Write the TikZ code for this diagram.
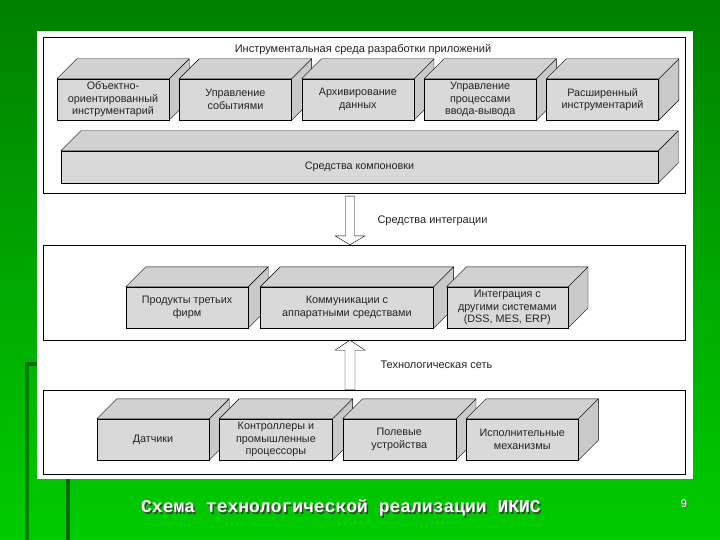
\documentclass[tikz,border=0pt]{standalone}
\usepackage{fontspec}
\setmainfont{Liberation Sans}
\newfontfamily\monofont{Liberation Mono}
\usetikzlibrary{positioning,calc}

\pgfdeclarelayer{fon}
\pgfdeclarelayer{grani}
\pgfsetlayers{fon,grani,main}

\definecolor{zel1}{RGB}{0,128,0}
\definecolor{zel2}{RGB}{0,176,0}
\definecolor{zel3}{RGB}{0,204,0}
\definecolor{zelt}{RGB}{0,105,0}
\definecolor{tekst}{RGB}{35,35,35}

\begin{document}
\begin{tikzpicture}[x=1pt, y=-1pt, line width=0.8pt, node distance=10pt,
	panel/.style={draw, minimum width=642pt, inner sep=0pt},
	kub/.style={draw, fill=gray!30, minimum height=41pt, inner sep=0pt, align=center, text=tekst, font=\fontsize{10.8}{12.4}\selectfont},
	verh/.style={draw, fill=gray!36, line join=round},
	bok/.style={draw, fill=gray!42, line join=round},
	strelka/.style={draw, fill=white, line join=miter},
	metka/.style={text=tekst, font=\fontsize{11}{13.5}\selectfont, anchor=west},
	podpis/.style={font=\monofont\bfseries\fontsize{18}{20}\selectfont}]
	\useasboundingbox (0,0) rectangle (720,540);

	% Background
	\begin{pgfonlayer}{fon}
		\shade[top color=zel1, middle color=zel2, bottom color=zel3] (0,0) rectangle (720,540);
		\fill[zelt!70!zel2] (25,362) rectangle (29,540);
		\fill[zelt] (25,362) rectangle (37,366);
		\fill[zelt] (66,479) rectangle (70,540);
		\fill[white] (37,31) rectangle (693,479);
	\end{pgfonlayer}

	% Panels
	\node [panel, minimum height=156pt]	(p1) at (364,115)	{};
	\node [panel, minimum height=95pt]	(p2) at (364,292.5)	{};
	\node [panel, minimum height=84pt]	(p3) at (364,432)	{};
	\node [metka, anchor=center]		(zag) at (363,50)	{Инструментальная среда разработки приложений};

	% Nodes {i1..i5, ik, m1..m3, t1..t4}
	\node [kub, minimum width=112pt]				(i1) at (113,99.5)	{Объектно-\\ориентированный\\инструментарий};
	\node [kub, minimum width=112pt, right=of i1]	(i2)				{Управление\\событиями};
	\node [kub, minimum width=112pt, right=of i2]	(i3)				{Архивирование\\данных};
	\node [kub, minimum width=112pt, right=of i3]	(i4)				{Управление\\процессами\\ввода-вывода};
	\node [kub, minimum width=112pt, right=of i4]	(i5)				{Расширенный\\инструментарий};
	\node [kub, minimum width=597pt, minimum height=32pt]	(ik) at (359.5,167)	{Средства компоновки};

	\node [kub, minimum width=122pt]					(m1) at (187,307.5)	{Продукты третьих\\фирм};
	\node [kub, minimum width=173pt, right=12pt of m1]	(m2)				{Коммуникации с\\аппаратными средствами};
	\node [kub, minimum width=121pt, right=13pt of m2]	(m3)				{Интеграция с\\другими системами\\(DSS, MES, ERP)};

	\node [kub, minimum width=112pt]				(t1) at (153,439.5)	{Датчики};
	\node [kub, minimum width=113pt, right=of t1]	(t2)				{Контроллеры и\\промышленные\\процессоры};
	\node [kub, minimum width=113pt, right=of t2]	(t3)				{Полевые\\устройства};
	\node [kub, minimum width=112pt, right=of t3]	(t4)				{Исполнительные\\механизмы};

	% Faces
	\begin{pgfonlayer}{grani}
		\foreach \n in {i1,i2,i3,i4,i5,ik,m1,m2,m3,t1,t2,t3,t4} {
			\draw [bok]  (\n.north east) -- ++(20,-20) -- ($(\n.south east)+(20,-20)$) -- (\n.south east) -- cycle;
			\draw [verh] (\n.north west) -- ++(20,-20) -- ($(\n.north east)+(20,-20)$) -- (\n.north east) -- cycle;
		}
	\end{pgfonlayer}

	% Paths
	\coordinate (os) at (350,0);
	\draw [strelka] ($(os |- p1.south)+(-4.5,3)$) |- ($(os |- p2.north)+(-15,-9)$) -- (os |- p2.north)
		-- ($(os |- p2.north)+(15,-9)$) -| ($(os |- p1.south)+(4.5,3)$) -- cycle;
	\draw [strelka] (os |- p2.south) -- ($(os |- p2.south)+(15,10)$) -| ($(os |- p3.north)+(5,0)$)
		-- ($(os |- p3.north)+(-5,0)$) |- ($(os |- p2.south)+(-15,10)$) -- cycle;
	\node [metka]	(l1) at (374,221)	{Средства интеграции};
	\node [metka]	(l2) at (377,365)	{Технологическая сеть};

	% Caption
	\node [podpis, text=black!75]	(ten) at (342.5,509.5)	{Схема технологической реализации ИКИС};
	\node [podpis, text=white]		(pod) at (341,508)		{Схема технологической реализации ИКИС};
	\node [font=\fontsize{11}{12}\selectfont, text=black!60]	(nt) at (684.8,504.8)	{9};
	\node [font=\fontsize{11}{12}\selectfont, text=white]		(nom) at (684,504)		{9};
\end{tikzpicture}
\end{document}
